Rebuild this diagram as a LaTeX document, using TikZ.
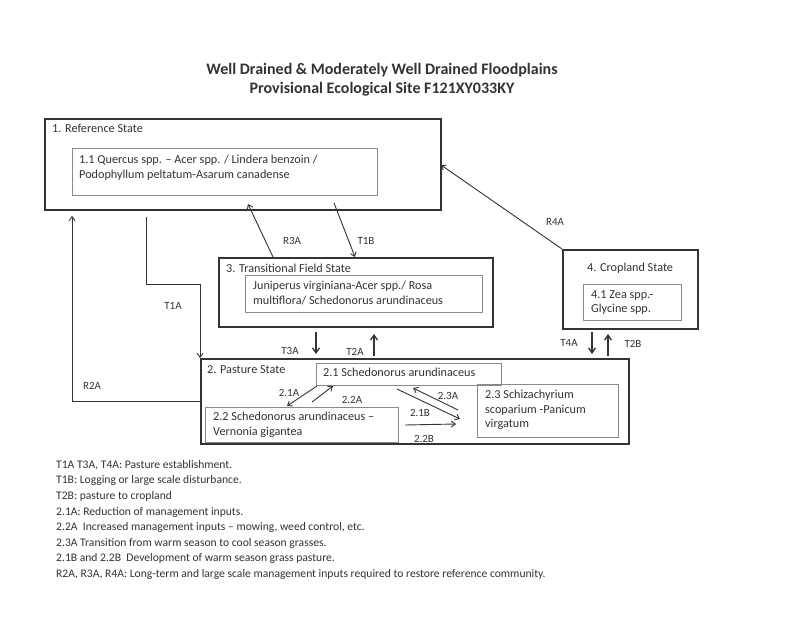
\documentclass[tikz,border=0pt]{standalone}
\usepackage{fontspec}
\setmainfont{Carlito}
\usetikzlibrary{arrows.meta}
\definecolor{ink}{HTML}{333333}
\definecolor{inner}{HTML}{8A8A8A}
\tikzset{
  x=1pt, y=-1pt,
  every node/.style={text=ink},
  outerbox/.style={draw=ink, line width=1.7pt, anchor=north west, inner sep=0pt, rectangle},
  innerbox/.style={draw=inner, line width=1pt, anchor=north west, inner sep=0pt, rectangle},
  boxtxt/.style={font=\fontsize{12.2}{14.5}\selectfont, anchor=north west, align=left, inner sep=0pt},
  lbl/.style={font=\fontsize{11}{12}\selectfont, inner sep=0pt},
  legend/.style={font=\fontsize{11.6}{15.6}\selectfont, anchor=north west, align=left, inner sep=0pt},
  conn/.style={draw=ink, line width=0.9pt, -{Straight Barb[length=4pt,width=6pt]}},
  bigconn/.style={draw=ink, line width=1.3pt, -{Straight Barb[length=5pt,width=7pt]}},
}
\begin{document}
\begin{tikzpicture}
\useasboundingbox[fill=white] (0,0) rectangle (800,617);

% title
\node[font=\fontsize{16}{19}\selectfont\bfseries, align=center, text=ink] (title) at (382,80)
  {Well Drained \& Moderately Well Drained Floodplains\\Provisional Ecological Site F121XY033KY};

% boxes
\node[outerbox, minimum width=396pt, minimum height=91pt] (ref) at (44,118) {};
\node[boxtxt] (reft) at (52,124) {1. Reference State};
\node[innerbox, minimum width=305pt, minimum height=47pt] (ref1) at (72,148) {};
\node[boxtxt] (ref1t) at (79,155) {1.1 Quercus spp. – Acer spp. / Lindera benzoin /\\Podophyllum peltatum-Asarum canadense};

\node[outerbox, minimum width=274pt, minimum height=69pt] (tr) at (218,257) {};
\node[boxtxt] (trt) at (226,264) {3. Transitional Field State};
\node[innerbox, minimum width=237pt, minimum height=37pt] (tr1) at (245,275) {};
\node[boxtxt] (tr1t) at (253,281) {Juniperus virginiana-Acer spp./ Rosa\\multiflora/ Schedonorus arundinaceus};

\node[outerbox, minimum width=135pt, minimum height=79pt] (cr) at (562,249) {};
\node[boxtxt] (crt) at (587,263) {4. Cropland State};
\node[innerbox, minimum width=98pt, minimum height=36pt] (cr1) at (583,284) {};
\node[boxtxt] (cr1t) at (591,290) {4.1 Zea spp.-\\Glycine spp.};

\node[outerbox, minimum width=428pt, minimum height=85pt] (pa) at (200,358) {};
\node[boxtxt] (pat) at (207,365) {2. Pasture State};
\node[innerbox, minimum width=185pt, minimum height=22pt] (p1) at (316,363) {};
\node[boxtxt] (p1t) at (323,368) {2.1 Schedonorus arundinaceus};
\node[innerbox, minimum width=193pt, minimum height=35pt] (p2) at (205,407) {};
\node[boxtxt] (p2t) at (213,412) {2.2 Schedonorus arundinaceus –\\Vernonia gigantea};
\node[innerbox, minimum width=141pt, minimum height=53pt] (p3) at (477,384) {};
\node[boxtxt] (p3t) at (485,390) {2.3 Schizachyrium\\scoparium -Panicum\\virgatum};

% connectors
\draw[conn] (tr.north west) ++(55,0) coordinate (r3s) -- (248,204) coordinate (r3e);
\draw[conn] (334,203) coordinate (t1bs) -- (tr.north west -| 355,0) coordinate (t1be);
\draw[conn] (cr.north west) -- (441,165) coordinate (r4e);
\draw[conn] (ref.south west) ++(102,6) coordinate (t1as) -- (146,284) coordinate (t1am) -- (200,284) coordinate (t1an) -- (pa.north west);
\draw[conn] (pa.west |- 0,401) coordinate (r2as) -- (72,401) coordinate (r2am) -- (72,216) coordinate (r2ae);

\draw[bigconn] (316,332) coordinate (t3as) -- (316,354) coordinate (t3ae);
\draw[bigconn] (374,356) coordinate (t2as) -- (374,334) coordinate (t2ae);
\draw[bigconn] (592,332) coordinate (t4as) -- (592,354) coordinate (t4ae);
\draw[bigconn] (608,356) coordinate (t2bs) -- (608,334) coordinate (t2be);

\draw[conn] (p1.south west) ++(1,0) -- (287,406) coordinate (a21e);
\draw[conn] (312,402) coordinate (a22s) -- (333,386) coordinate (a22e);
\draw[conn] (458,410) coordinate (a23s) -- (413,388) coordinate (a23e);
\draw[conn] (397,389) coordinate (b21s) -- (460,419) coordinate (b21e);
\draw[conn] (405,425) coordinate (b22s) -- (456,424) coordinate (b22e);

% labels
\node[lbl] (lR3A) at (292,241) {R3A};
\node[lbl] (lT1B) at (366,241) {T1B};
\node[lbl] (lR4A) at (555,222) {R4A};
\node[lbl] (lT1A) at (173,306) {T1A};
\node[lbl] (lR2A) at (92,386) {R2A};
\node[lbl] (lT3A) at (290,351) {T3A};
\node[lbl] (lT2A) at (355,352) {T2A};
\node[lbl] (lT4A) at (569,343) {T4A};
\node[lbl] (lT2B) at (633,344) {T2B};
\node[lbl] (l21A) at (289,393) {2.1A};
\node[lbl] (l22A) at (352,400) {2.2A};
\node[lbl] (l23A) at (448,396) {2.3A};
\node[lbl] (l21B) at (420,413) {2.1B};
\node[lbl] (l22B) at (424,439) {2.2B};

% legend
\node[legend] (leg) at (56,460) {T1A T3A, T4A: Pasture establishment.\\
T1B: Logging or large scale disturbance.\\
T2B: pasture to cropland\\
2.1A: Reduction of management inputs.\\
2.2A\ \ Increased management inputs – mowing, weed control, etc.\\
2.3A Transition from warm season to cool season grasses.\\
2.1B and 2.2B\ \ Development of warm season grass pasture.\\
R2A, R3A, R4A: Long-term and large scale management inputs required to restore reference community.};
\end{tikzpicture}
\end{document}
